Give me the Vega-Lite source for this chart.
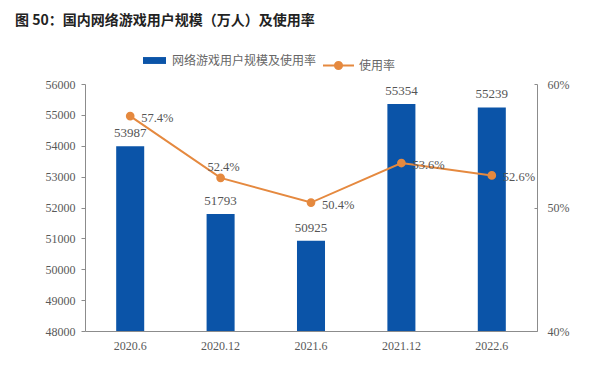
{
  "$schema": "https://vega.github.io/schema/vega-lite/v6.json",
  "width": 452,
  "height": 247,
  "autosize": {"type": "none"},
  "padding": {"left": 85, "top": 84, "right": 63, "bottom": 40},
  "background": "white",
  "config": {
    "view": {"stroke": null},
    "axis": {"grid": false, "labelFont": "Liberation Serif", "labelFontSize": 12, "labelColor": "#595959", "domainColor": "#8c8c8c", "tickColor": "#8c8c8c", "title": null}
  },
  "title": {
    "text": "图 50：国内网络游戏用户规模（万人）及使用率",
    "anchor": "start",
    "frame": "group",
    "dx": -70,
    "offset": 21,
    "font": "Noto Sans CJK SC",
    "fontSize": 14,
    "fontWeight": "bold",
    "color": "#222222"
  },
  "data": {
    "values": [
      {"period": "2020.6", "users": 53987, "rate": 0.574},
      {"period": "2020.12", "users": 51793, "rate": 0.524},
      {"period": "2021.6", "users": 50925, "rate": 0.504},
      {"period": "2021.12", "users": 55354, "rate": 0.536},
      {"period": "2022.6", "users": 55239, "rate": 0.526}
    ]
  },
  "encoding": {
    "x": {
      "field": "period", "type": "nominal", "sort": null,
      "scale": {"paddingInner": 0.69, "paddingOuter": 0.345},
      "axis": {"labelAngle": 0, "ticks": false, "labelPadding": 9, "labelFontSize": 12}
    }
  },
  "layer": [
    {
      "encoding": {
        "y": {
          "field": "users", "type": "quantitative",
          "scale": {"domain": [48000, 56000], "zero": false, "nice": false},
          "axis": {"orient": "left", "values": [48000, 49000, 50000, 51000, 52000, 53000, 54000, 55000, 56000], "format": "d", "tickSize": 4, "labelPadding": 6}
        }
      },
      "layer": [
        {
          "mark": {"type": "bar", "color": "#0B54A8", "clip": true},
          "encoding": {
            "fill": {"datum": "网络游戏用户规模及使用率", "scale": {"range": ["#0B54A8"]},
              "legend": {"orient": "none", "legendX": 58, "legendY": -35, "symbolType": "M-1,-0.3H1V0.3H-1Z", "symbolSize": 529, "symbolStrokeWidth": 0, "labelFont": "Noto Sans CJK SC", "labelFontSize": 12, "labelColor": "#666666", "labelOffset": 6, "title": null}}
          }
        },
        {
          "mark": {"type": "text", "baseline": "alphabetic", "dy": -9, "font": "Liberation Serif", "fontSize": 13, "color": "#555555"},
          "encoding": {"text": {"field": "users", "type": "quantitative", "format": "d"}}
        }
      ]
    },
    {
      "encoding": {
        "y": {
          "field": "rate", "type": "quantitative",
          "scale": {"domain": [0.4, 0.6], "zero": false, "nice": false},
          "axis": {"orient": "right", "values": [0.4, 0.5, 0.6], "format": ".0%", "tickSize": -3, "labelPadding": 13}
        }
      },
      "layer": [
        {
          "mark": {"type": "line", "color": "#E5893F", "strokeWidth": 2, "point": {"filled": true, "size": 45, "color": "#E5893F"}},
          "encoding": {
            "stroke": {"datum": "使用率", "scale": {"range": ["#E5893F"]},
              "legend": {"orient": "none", "legendX": 237, "legendY": -35, "symbolType": "M-1,0H1M-0.23,0A0.23,0.23,0,1,0,0.23,0A0.23,0.23,0,1,0,-0.23,0Z", "symbolSize": 961, "symbolStrokeWidth": 2, "symbolFillColor": "#E5893F", "labelFont": "Noto Sans CJK SC", "labelFontSize": 12, "labelColor": "#666666", "labelOffset": 4, "title": null}}
          }
        },
        {
          "transform": [{"filter": "datum.period !== '2020.12'"}],
          "mark": {"type": "text", "align": "left", "baseline": "middle", "dx": 11, "dy": 2, "font": "Liberation Serif", "fontSize": 12.5, "color": "#555555"},
          "encoding": {"text": {"field": "rate", "type": "quantitative", "format": ".1%"}}
        },
        {
          "transform": [{"filter": "datum.period === '2020.12'"}],
          "mark": {"type": "text", "align": "center", "baseline": "middle", "dy": -11, "dx": 3, "font": "Liberation Serif", "fontSize": 12.5, "color": "#555555"},
          "encoding": {"text": {"field": "rate", "type": "quantitative", "format": ".1%"}}
        }
      ]
    }
  ],
  "resolve": {"scale": {"y": "independent", "fill": "independent", "stroke": "independent"}}
}
